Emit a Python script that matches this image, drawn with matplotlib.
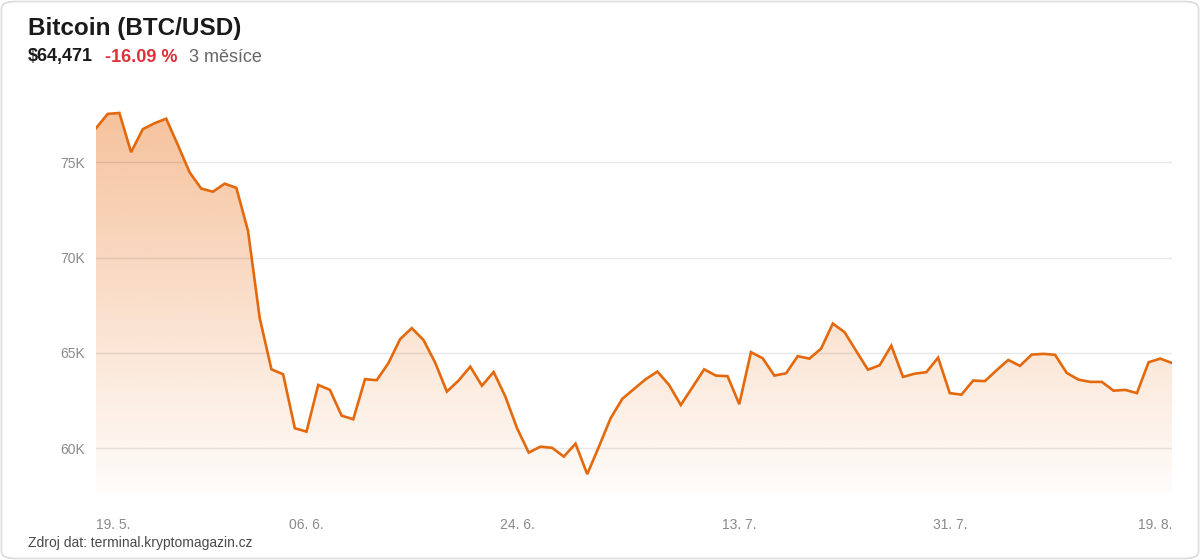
import numpy as np
import pandas as pd
import matplotlib
matplotlib.use("Agg")
import matplotlib.pyplot as plt
import matplotlib.dates as mdates
from matplotlib.patches import FancyBboxPatch

plt.rcParams['font.family'] = ['Liberation Sans', 'DejaVu Sans']

# === Data ===
start_date = "2024-05-19"
prices = [
    76790, 77540, 77590, 75530, 76740, 77050, 77290, 75910, 74480, 73620,
    73460, 73880, 73660, 71400, 66820, 64140, 63880, 61050, 60870, 63320,
    63060, 61710, 61520, 63620, 63570, 64460, 65720, 66300, 65680, 64490,
    62970, 63550, 64280, 63280, 64000, 62710, 61050, 59770, 60080, 60020,
    59560, 60240, 58640, 60080, 61570, 62590, 63110, 63620, 64020, 63320,
    62270, 63200, 64140, 63810, 63780, 62310, 65040, 64720, 63810, 63930,
    64830, 64700, 65230, 66540, 66090, 65100, 64120, 64350, 65380, 63740,
    63910, 63990, 64750, 62890, 62810, 63550, 63520, 64090, 64630, 64320,
    64910, 64950, 64900, 63950, 63600, 63480, 63480, 63020, 63060, 62890,
    64510, 64700, 64471,
]
dates = pd.date_range(start_date, periods=len(prices), freq="D")

y_ticks = [60000, 65000, 70000, 75000]
y_tick_labels = ["60K", "65K", "70K", "75K"]
x_tick_dates = ["2024-05-19", "2024-06-06", "2024-06-24", "2024-07-13", "2024-07-31", "2024-08-19"]
x_tick_labels = ["19. 5.", "06. 6.", "24. 6.", "13. 7.", "31. 7.", "19. 8."]

title = "Bitcoin (BTC/USD)"
last_price = "$64,471"
change = "-16.09 %"
period = "3 měsíce"
source = "Zdroj dat: terminal.kryptomagazin.cz"

line_color = "#E3690C"

# === Figure ===
fig = plt.figure(figsize=(12, 5.6), dpi=100)
fig.patch.set_facecolor("white")

card = FancyBboxPatch((1.5 / 1200, 1.5 / 560), 1197 / 1200, 557 / 560,
                      boxstyle="round,pad=0,rounding_size=0.012",
                      transform=fig.transFigure, facecolor="white",
                      edgecolor="#dcdcdc", linewidth=1.2, zorder=-5)
fig.patches.append(card)

ax = fig.add_axes([96 / 1200, 1 - 493 / 560, 1076 / 1200, 393 / 560])
ax.set_zorder(2)
ax.set_facecolor("none")

y_bottom, y_top = 57650, 78270
x_num = mdates.date2num(dates)
ax.set_xlim(x_num[0], x_num[-1])
ax.set_ylim(y_bottom, y_top)

# gradient fill under the line (orange, alpha fading to the bottom)
poly = ax.fill_between(x_num, prices, y_bottom, color="none", linewidth=0)
grad = np.zeros((256, 1, 4))
grad[:, 0, 0] = 232 / 255
grad[:, 0, 1] = 105 / 255
grad[:, 0, 2] = 12 / 255
grad[:, 0, 3] = np.linspace(0.02, 0.42, 256)
img = ax.imshow(grad, aspect="auto", origin="lower",
                extent=[x_num[0], x_num[-1], y_bottom, y_top], zorder=1)
img.set_clip_path(poly.get_paths()[0], transform=ax.transData)

for yt in y_ticks:
    ax.axhline(yt, color="black", alpha=0.09, linewidth=1, zorder=2)

ax.plot(x_num, prices, color=line_color, linewidth=1.9, zorder=3,
        solid_joinstyle="miter")

for s in ax.spines.values():
    s.set_visible(False)

ax.set_yticks(y_ticks)
ax.set_yticklabels(y_tick_labels)
ax.tick_params(axis="y", length=0, pad=8, labelsize=10, labelcolor="#8a8a8a")

ax.set_xticks(mdates.date2num(pd.to_datetime(x_tick_dates)))
ax.set_xticklabels(x_tick_labels)
ax.tick_params(axis="x", length=0, pad=18, labelsize=10, labelcolor="#8a8a8a")
xt = ax.get_xticklabels()
xt[0].set_ha("left")
xt[-1].set_ha("right")

# === Texts ===
fig.text(28 / 1200, 1 - 28 / 560, title, fontsize=17.5, fontweight="bold",
         color="#1a1a1a", va="center")
fig.text(28 / 1200, 1 - 57 / 560, last_price, fontsize=13, fontweight="bold",
         color="#1a1a1a", va="center")
fig.text(105 / 1200, 1 - 57 / 560, change, fontsize=13, fontweight="bold",
         color="#e0303a", va="center")
fig.text(189 / 1200, 1 - 57 / 560, period, fontsize=13,
         color="#666666", va="center")
fig.text(28 / 1200, 1 - 543 / 560, source, fontsize=10,
         color="#4a4a4a", va="center")

fig.savefig("out.png", dpi=100)
